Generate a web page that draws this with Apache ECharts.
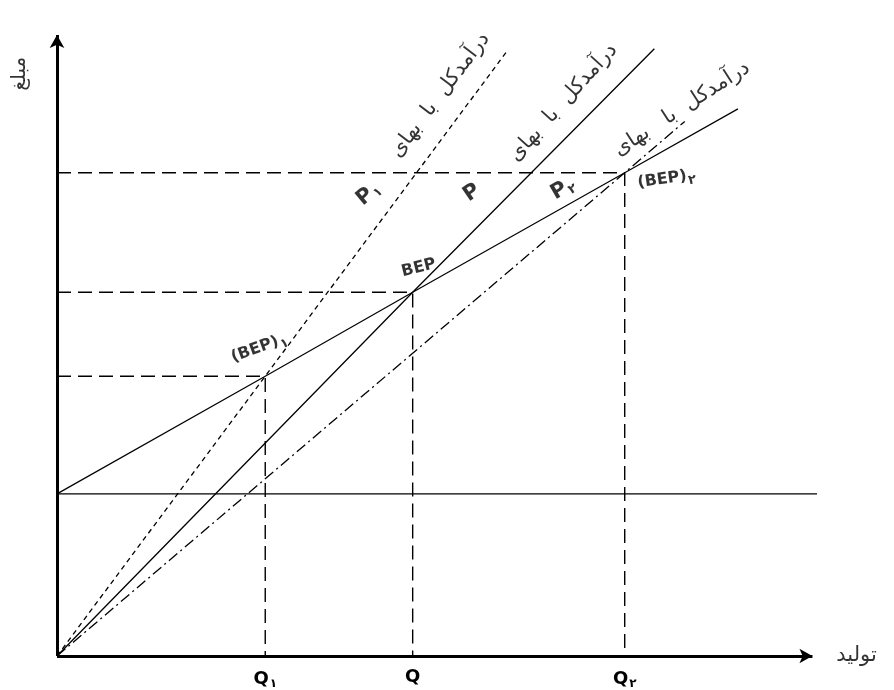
<!DOCTYPE html>
<html>
<head>
<meta charset="utf-8">
<script src="https://cdn.jsdelivr.net/npm/echarts@6/dist/echarts.min.js"></script>
<style>
html,body{margin:0;padding:0;background:#fff;}
#chart{width:894px;height:690px;}
</style>
</head>
<body>
<div id="chart"></div>
<script>
// ---- data (arbitrary units: production on x, amount on y) ----
const qTickLabels = ['Q۱', 'Q', 'Q۲'];
const breakEvenQ = [27.4, 46.8, 74.7];          // Q1, Q, Q2
const breakEvenAmount = [44.7, 58.1, 77.2];     // amount at each break-even point
const fixedCost = 25.9;
const fixedCostEndQ = 100;
const totalCostEnd = [89.6, 87.4];
const revenueP1End = [59.2, 96.6];
const revenuePEnd = [78.6, 97.0];
const revenueP2End = [82.6, 85.4];
const lineTexts = ['درآمدکل  با  بهای', 'درآمدکل  با  بهای', 'درآمدکل  با   بهای'];
const priceTexts = ['P', 'P', 'P'];
const priceSubs = ['۱', '', '۲'];
const bepTexts = ['(BEP)', 'BEP', '(BEP)'];
const bepSubs = ['۱', '', '۲'];
const xAxisTitle = 'تولید';
const yAxisTitle = 'مبلغ';

// ---- annotation placement (data coordinates) ----
const lineTextPos = [[50.4, 89.6], [66.6, 88.4], [82.2, 87.4]];
const lineTextRot = [53, 48, 33];
const pricePos = [[41.0, 73.8], [54.6, 74.0], [66.6, 74.6]];
const priceRot = [40, 35, 30];
const bepPos = [[26.6, 49.2], [47.6, 62.0], [80.2, 76.2]];
const bepRot = [20, 14, 8];
const xTitlePos = [105.2, 0];
const yTitlePos = [-4.9, 93.0];

const chart = echarts.init(document.getElementById('chart'));
const FONT = 'DejaVu Sans';
const black = '#000';

function lineSeries(data, type, width) {
  return {
    type: 'line', data: data, symbol: 'none', showSymbol: false, silent: true,
    animation: false, clip: false,
    lineStyle: { color: black, width: width || 1.2, type: type || 'solid' }
  };
}

const series = [];
// fixed cost
series.push(lineSeries([[0, fixedCost], [fixedCostEndQ, fixedCost]], 'solid', 1.4));
// total cost
series.push(lineSeries([[0, fixedCost]].concat(breakEvenQ.map((q, i) => [q, breakEvenAmount[i]])).concat([totalCostEnd]), 'solid', 1.2));
// revenues
series.push(lineSeries([[0, 0], [breakEvenQ[0], breakEvenAmount[0]], revenueP1End], [5, 4], 1.3));
series.push(lineSeries([[0, 0], [breakEvenQ[1], breakEvenAmount[1]], revenuePEnd], 'solid', 1.3));
series.push(lineSeries([[0, 0], [breakEvenQ[2], breakEvenAmount[2]], revenueP2End], [11, 4, 2, 4], 1.3));
// guide dashed lines
breakEvenQ.forEach((q, i) => {
  series.push(lineSeries([[0, breakEvenAmount[i]], [q, breakEvenAmount[i]], [q, 0]], [14, 7], 1.4));
});

// axes with arrows
series.push({
  type: 'line', data: [], silent: true, animation: false,
  markLine: {
    silent: true, animation: false,
    symbol: ['none', 'arrow'], symbolSize: [11, 13],
    label: { show: false },
    lineStyle: { color: black, width: 3, type: 'solid' },
    data: [
      [{ coord: [0, 0] }, { coord: [99.4, 0] }],
      [{ coord: [0, 0] }, { coord: [0, 99.2] }]
    ]
  }
});

// text annotations
const textData = [];
lineTexts.forEach((t, i) => textData.push({
  value: lineTextPos[i],
  label: { formatter: t, rotate: lineTextRot[i], fontSize: 21, fontFamily: FONT, color: black }
}));
priceTexts.forEach((t, i) => textData.push({
  value: pricePos[i],
  label: { formatter: '{m|' + t + '}' + (priceSubs[i] ? '{s|' + priceSubs[i] + '}' : ''), rotate: priceRot[i] }
}));
bepTexts.forEach((t, i) => textData.push({
  value: bepPos[i],
  label: { formatter: '{b|' + t + '}' + (bepSubs[i] ? '{s|' + bepSubs[i] + '}' : ''), rotate: bepRot[i] }
}));
textData.push({ value: xTitlePos, label: { formatter: xAxisTitle, fontSize: 21, fontFamily: FONT, color: black } });
textData.push({ value: yTitlePos, label: { formatter: yAxisTitle, rotate: 90, fontSize: 20, fontFamily: FONT, color: black } });

const richStyles = {
  m: { fontSize: 21, fontWeight: 'bold', fontFamily: FONT, color: black },
  b: { fontSize: 16, fontWeight: 'bold', fontFamily: FONT, color: black },
  s: { fontSize: 13, fontWeight: 'bold', fontFamily: FONT, color: black, padding: [10, 0, 0, 1] }
};

series.push({
  type: 'scatter', data: textData, symbolSize: 0, silent: true, animation: false, clip: false,
  label: { show: true, position: 'inside', color: black, rich: richStyles }
});

chart.setOption({
  animation: false,
  backgroundColor: '#fff',
  grid: { left: 57, right: 77, top: 30, bottom: 34 },
  xAxis: {
    type: 'value', min: 0, max: 100,
    axisLine: { show: false }, axisTick: { show: false }, splitLine: { show: false },
    axisLabel: {
      customValues: breakEvenQ, margin: 12,
      formatter: function (v) {
        const i = breakEvenQ.indexOf(v);
        const t = qTickLabels[i] || '';
        return t.length > 1 ? '{m|' + t[0] + '}{s|' + t.slice(1) + '}' : '{m|' + t + '}';
      },
      rich: {
        m: { fontSize: 18, fontWeight: 'bold', fontFamily: FONT, color: black },
        s: { fontSize: 12, fontWeight: 'bold', fontFamily: FONT, color: black, padding: [10, 0, 0, 1] }
      }
    }
  },
  yAxis: {
    type: 'value', min: 0, max: 100,
    axisLine: { show: false }, axisTick: { show: false }, splitLine: { show: false },
    axisLabel: { show: false }
  },
  series: series
});
</script>
</body>
</html>
